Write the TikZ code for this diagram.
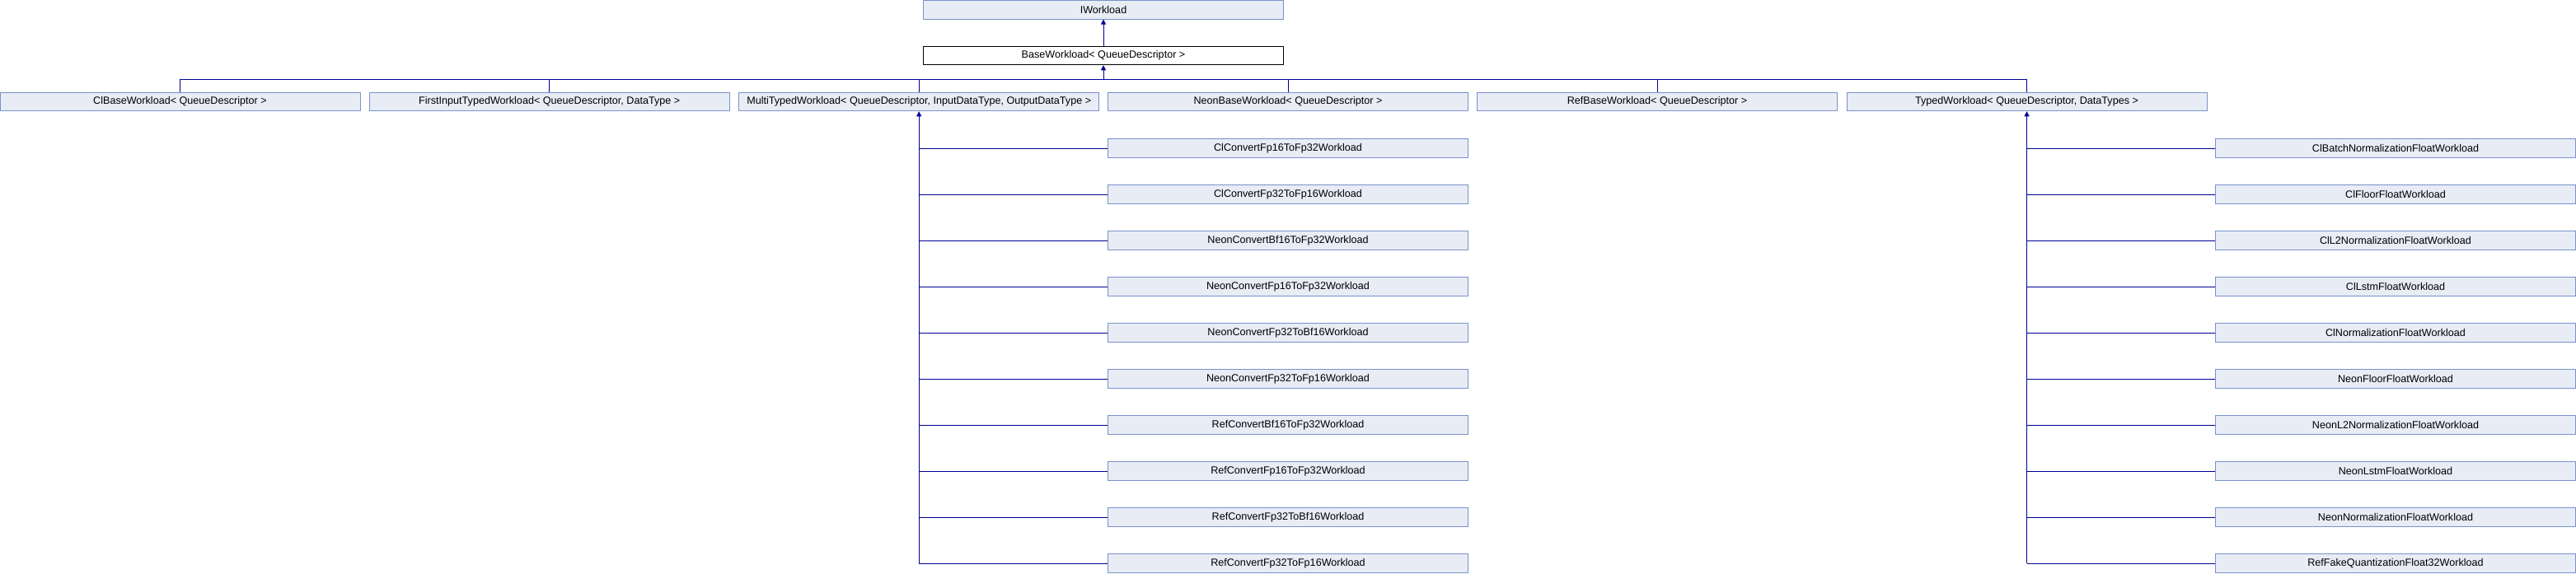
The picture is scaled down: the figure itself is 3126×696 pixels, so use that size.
\documentclass[tikz,border=0pt]{standalone}
\usepackage{fontspec}
\setmainfont{Liberation Sans}
\usetikzlibrary{arrows.meta}
\definecolor{boxfill}{RGB}{232,236,245}
\definecolor{boxline}{RGB}{120,146,204}
\definecolor{edge}{RGB}{0,0,150}
\tikzset{
  cls/.style={draw=boxline, fill=boxfill, line width=1pt, minimum width=437pt, minimum height=22.5pt, inner sep=0pt, font=\fontsize{12.6}{14}\selectfont},
  focus/.style={cls, draw=black, fill=white},
  conn/.style={draw=edge, line width=1pt},
  inh/.style={conn, -{Triangle[length=6pt,width=6pt]}},
}
\begin{document}
\begin{tikzpicture}[x=1pt,y=-1pt]
\useasboundingbox (0,0) rectangle (3126,696);
% top
\node[cls] (iw) at (1339,11.75) {IWorkload};
\node[focus] (base) at (1339,67.5) {BaseWorkload< QueueDescriptor >};
% row 1
\node[cls] (clb) at (218.5,123.5) {ClBaseWorkload< QueueDescriptor >};
\node[cls] (fit) at (666.7,123.5) {FirstInputTypedWorkload< QueueDescriptor, DataType >};
\node[cls] (mtw) at (1115.2,123.5) {MultiTypedWorkload< QueueDescriptor, InputDataType, OutputDataType >};
\node[cls] (nbw) at (1563,123.5) {NeonBaseWorkload< QueueDescriptor >};
\node[cls] (rbw) at (2011,123.5) {RefBaseWorkload< QueueDescriptor >};
\node[cls] (tw) at (2459.5,123.5) {TypedWorkload< QueueDescriptor, DataTypes >};
% left children
\node[cls] (l0) at (1563,180) {ClConvertFp16ToFp32Workload};
\node[cls] (l1) at (1563,236) {ClConvertFp32ToFp16Workload};
\node[cls] (l2) at (1563,292) {NeonConvertBf16ToFp32Workload};
\node[cls] (l3) at (1563,348) {NeonConvertFp16ToFp32Workload};
\node[cls] (l4) at (1563,404) {NeonConvertFp32ToBf16Workload};
\node[cls] (l5) at (1563,460) {NeonConvertFp32ToFp16Workload};
\node[cls] (l6) at (1563,516) {RefConvertBf16ToFp32Workload};
\node[cls] (l7) at (1563,572) {RefConvertFp16ToFp32Workload};
\node[cls] (l8) at (1563,628) {RefConvertFp32ToBf16Workload};
\node[cls] (l9) at (1563,684) {RefConvertFp32ToFp16Workload};
% right children
\node[cls] (r0) at (2907,180) {ClBatchNormalizationFloatWorkload};
\node[cls] (r1) at (2907,236) {ClFloorFloatWorkload};
\node[cls] (r2) at (2907,292) {ClL2NormalizationFloatWorkload};
\node[cls] (r3) at (2907,348) {ClLstmFloatWorkload};
\node[cls] (r4) at (2907,404) {ClNormalizationFloatWorkload};
\node[cls] (r5) at (2907,460) {NeonFloorFloatWorkload};
\node[cls] (r6) at (2907,516) {NeonL2NormalizationFloatWorkload};
\node[cls] (r7) at (2907,572) {NeonLstmFloatWorkload};
\node[cls] (r8) at (2907,628) {NeonNormalizationFloatWorkload};
\node[cls] (r9) at (2907,684) {RefFakeQuantizationFloat32Workload};
% connectors
\draw[inh] (base.north) -- (iw.south);
\coordinate (bus) at (1339,96);
\foreach \n in {clb,fit,mtw,nbw,rbw,tw} { \draw[conn] (\n.north) |- (bus); }
\draw[inh] (bus) -- (base.south);
\coordinate (lbus) at (mtw.south |- l9.west);
\coordinate (rbus) at (tw.south |- r9.west);
\foreach \i in {0,...,9} {
  \draw[conn] (l\i.west) -- (l\i.west -| mtw.south);
  \draw[conn] (r\i.west) -- (r\i.west -| tw.south);
}
\draw[inh] (lbus) -- (mtw.south);
\draw[inh] (rbus) -- (tw.south);
\end{tikzpicture}
\end{document}
